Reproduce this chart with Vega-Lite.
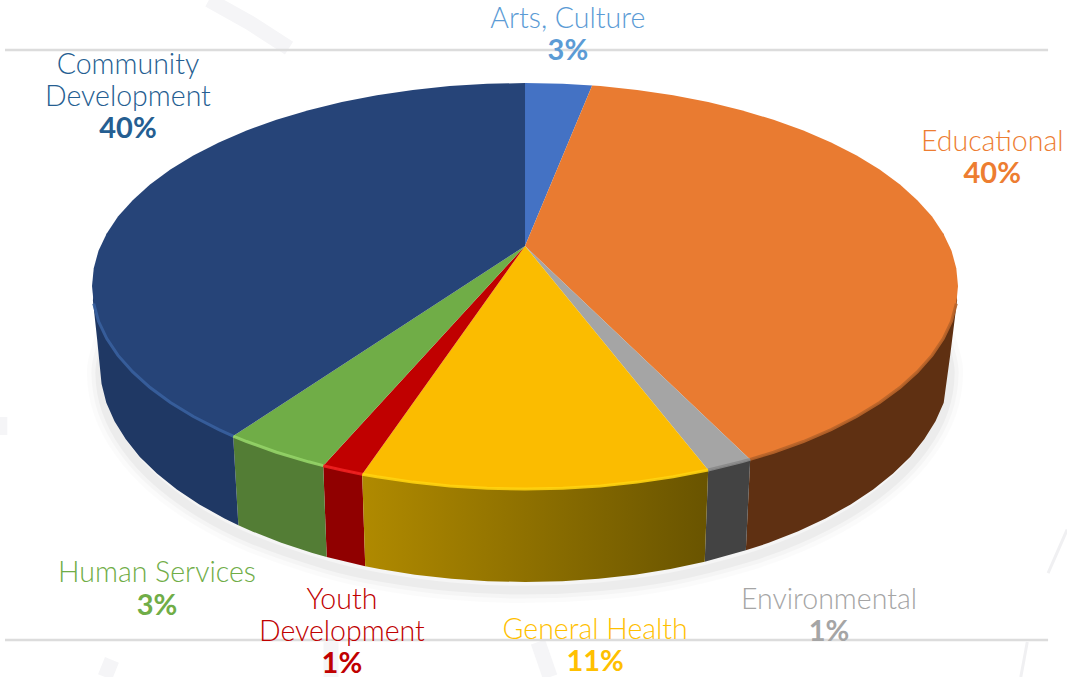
{"$schema":"https://vega.github.io/schema/vega-lite/v6.json","width":1067,"height":677,"autosize":"none","padding":0,"background":"white","config":{"view":{"stroke":null}},
"datasets":{
"captions":[{"name":"Arts, Culture","share":"3%"},{"name":"Educational","share":"40%"},{"name":"Environmental","share":"1%"},{"name":"General Health","share":"11%"},{"name":"Youth\nDevelopment","share":"1%"},{"name":"Human Services","share":"3%"},{"name":"Community\nDevelopment","share":"40%"}],
"backdrop":[{"g":"a","i":0,"x":-73,"y":140.9},{"g":"a","i":1,"x":-63.5,"y":129.6},{"g":"a","i":2,"x":-54.5,"y":117.2},{"g":"b","i":0,"x":-44.8,"y":-175.4},{"g":"b","i":1,"x":-44.8,"y":-192.6},{"g":"c","i":0,"x":-95.4,"y":-184.2},{"g":"c","i":1,"x":-97,"y":-192.6},{"g":"d","i":0,"x":3,"y":-175.4},{"g":"d","i":1,"x":5.8,"y":-192.6},{"g":"e","i":0,"x":-121.3,"y":-64.5},{"g":"e","i":1,"x":-121.3,"y":-73.4}],
"thin":[{"g":"f","i":0,"x":120.8,"y":-141.4},{"g":"f","i":1,"x":125.2,"y":-120},{"g":"h","i":0,"x":116,"y":-175.4},{"g":"h","i":1,"x":114.5,"y":-192.6}],
"rules":[{"g":"top","x":-120.1,"y":116.3},{"g":"top","x":120.8,"y":116.3},{"g":"bottom","x":-120.1,"y":-174.4},{"g":"bottom","x":120.8,"y":-174.4}],
"ground":[{"i":0,"x":94.8,"y":-15.2},{"i":1,"x":97,"y":-30},{"i":2,"x":98.2,"y":-42.9},{"i":3,"x":96.7,"y":-61.5},{"i":4,"x":92.2,"y":-79.5},{"i":5,"x":85,"y":-96.4},{"i":6,"x":75.2,"y":-111.6},{"i":7,"x":63.1,"y":-124.8},{"i":8,"x":51,"y":-134.2},{"i":9,"x":33.6,"y":-143.4},{"i":10,"x":17,"y":-148.2},{"i":11,"x":0,"y":-149.8},{"i":12,"x":-17,"y":-148.2},{"i":13,"x":-33.6,"y":-143.4},{"i":14,"x":-45.8,"y":-137.5},{"i":15,"x":-63.1,"y":-124.8},{"i":16,"x":-75.2,"y":-111.6},{"i":17,"x":-85,"y":-96.4},{"i":18,"x":-92.2,"y":-79.5},{"i":19,"x":-96.7,"y":-61.5},{"i":20,"x":-98.2,"y":-42.9},{"i":21,"x":-97,"y":-30},{"i":22,"x":-94.8,"y":-15.2}],
"outline":[
{"s":"Educational","f":"side","i":1,"x":99.8,"y":-6.9},{"s":"Educational","f":"side","i":2,"x":99.3,"y":-15.3},{"s":"Educational","f":"side","i":3,"x":98.2,"y":-34},{"s":"Educational","f":"side","i":4,"x":97,"y":-52.7},{"s":"Educational","f":"side","i":6,"x":96.7,"y":-57.5},{"s":"Educational","f":"side","i":7,"x":94.8,"y":-66.6},{"s":"Educational","f":"side","i":8,"x":92.2,"y":-75.5},{"s":"Educational","f":"side","i":9,"x":89,"y":-84.1},{"s":"Educational","f":"side","i":10,"x":85,"y":-92.4},{"s":"Educational","f":"side","i":11,"x":80.4,"y":-100.2},{"s":"Educational","f":"side","i":12,"x":75.2,"y":-107.6},{"s":"Educational","f":"side","i":13,"x":69.4,"y":-114.5},{"s":"Educational","f":"side","i":14,"x":63.1,"y":-120.8},{"s":"Educational","f":"side","i":15,"x":56.3,"y":-126.5},{"s":"Educational","f":"side","i":16,"x":51,"y":-130.2},{"s":"Educational","f":"side","i":17,"x":52,"y":-85.4},{"s":"Educational","f":"side","i":18,"x":96.6,"y":25.9},
{"s":"Environmental","f":"side","i":1,"x":51,"y":-130.2},{"s":"Environmental","f":"side","i":2,"x":41.5,"y":-135.8},{"s":"Environmental","f":"side","i":3,"x":42.3,"y":-90.6},{"s":"Environmental","f":"side","i":4,"x":52,"y":-85.4},
{"s":"General Health","f":"side","i":1,"x":41.5,"y":-135.8},{"s":"General Health","f":"side","i":2,"x":33.6,"y":-139.4},{"s":"General Health","f":"side","i":3,"x":25.4,"y":-142.2},{"s":"General Health","f":"side","i":4,"x":17,"y":-144.2},{"s":"General Health","f":"side","i":5,"x":8.6,"y":-145.4},{"s":"General Health","f":"side","i":6,"x":0,"y":-145.8},{"s":"General Health","f":"side","i":7,"x":-8.6,"y":-145.4},{"s":"General Health","f":"side","i":8,"x":-17,"y":-144.2},{"s":"General Health","f":"side","i":9,"x":-25.4,"y":-142.2},{"s":"General Health","f":"side","i":10,"x":-33.6,"y":-139.4},{"s":"General Health","f":"side","i":11,"x":-36.9,"y":-138},{"s":"General Health","f":"side","i":12,"x":-37.6,"y":-92.7},{"s":"General Health","f":"side","i":13,"x":42.3,"y":-90.6},
{"s":"Youth Development","f":"side","i":1,"x":-36.9,"y":-138},{"s":"Youth Development","f":"side","i":2,"x":-45.8,"y":-133.5},{"s":"Youth Development","f":"side","i":3,"x":-46.6,"y":-88.5},{"s":"Youth Development","f":"side","i":4,"x":-37.6,"y":-92.7},
{"s":"Human Services","f":"side","i":1,"x":-45.8,"y":-133.5},{"s":"Human Services","f":"side","i":2,"x":-49.1,"y":-131.5},{"s":"Human Services","f":"side","i":3,"x":-56.3,"y":-126.5},{"s":"Human Services","f":"side","i":4,"x":-63.1,"y":-120.8},{"s":"Human Services","f":"side","i":5,"x":-66.2,"y":-117.9},{"s":"Human Services","f":"side","i":6,"x":-67.4,"y":-73.9},{"s":"Human Services","f":"side","i":7,"x":-46.6,"y":-88.5},
{"s":"Community Development","f":"side","i":1,"x":-66.2,"y":-117.9},{"s":"Community Development","f":"side","i":2,"x":-69.4,"y":-114.5},{"s":"Community Development","f":"side","i":3,"x":-75.2,"y":-107.6},{"s":"Community Development","f":"side","i":4,"x":-80.4,"y":-100.2},{"s":"Community Development","f":"side","i":5,"x":-85,"y":-92.4},{"s":"Community Development","f":"side","i":6,"x":-89,"y":-84.1},{"s":"Community Development","f":"side","i":7,"x":-92.2,"y":-75.5},{"s":"Community Development","f":"side","i":8,"x":-94.8,"y":-66.6},{"s":"Community Development","f":"side","i":9,"x":-96.7,"y":-57.5},{"s":"Community Development","f":"side","i":10,"x":-97.8,"y":-48.2},{"s":"Community Development","f":"side","i":11,"x":-98.8,"y":-26.6},{"s":"Community Development","f":"side","i":12,"x":-99.8,"y":-6.9},{"s":"Community Development","f":"side","i":15,"x":-96.6,"y":25.9},{"s":"Community Development","f":"side","i":16,"x":-67.4,"y":-73.9},
{"s":"Arts, Culture","f":"top","i":0,"x":0,"y":19.7},{"s":"Arts, Culture","f":"top","i":1,"x":0,"y":100},{"s":"Arts, Culture","f":"top","i":2,"x":8.7,"y":99.6},{"s":"Arts, Culture","f":"top","i":3,"x":15.5,"y":98.8},
{"s":"Educational","f":"top","i":0,"x":0,"y":19.7},{"s":"Educational","f":"top","i":1,"x":15.5,"y":98.8},{"s":"Educational","f":"top","i":2,"x":17.4,"y":98.5},{"s":"Educational","f":"top","i":3,"x":25.9,"y":96.6},{"s":"Educational","f":"top","i":4,"x":34.2,"y":94},{"s":"Educational","f":"top","i":5,"x":42.3,"y":90.6},{"s":"Educational","f":"top","i":6,"x":50,"y":86.6},{"s":"Educational","f":"top","i":7,"x":57.4,"y":81.9},{"s":"Educational","f":"top","i":8,"x":64.3,"y":76.6},{"s":"Educational","f":"top","i":9,"x":70.7,"y":70.7},{"s":"Educational","f":"top","i":10,"x":76.6,"y":64.3},{"s":"Educational","f":"top","i":11,"x":81.9,"y":57.4},{"s":"Educational","f":"top","i":12,"x":86.6,"y":50},{"s":"Educational","f":"top","i":13,"x":90.6,"y":42.3},{"s":"Educational","f":"top","i":14,"x":94,"y":34.2},{"s":"Educational","f":"top","i":15,"x":96.6,"y":25.9},{"s":"Educational","f":"top","i":16,"x":98.5,"y":17.4},{"s":"Educational","f":"top","i":17,"x":99.6,"y":8.7},{"s":"Educational","f":"top","i":18,"x":100,"y":0},{"s":"Educational","f":"top","i":19,"x":99.6,"y":-8.7},{"s":"Educational","f":"top","i":20,"x":98.5,"y":-17.4},{"s":"Educational","f":"top","i":21,"x":96.6,"y":-25.9},{"s":"Educational","f":"top","i":22,"x":94,"y":-34.2},{"s":"Educational","f":"top","i":23,"x":90.6,"y":-42.3},{"s":"Educational","f":"top","i":24,"x":86.6,"y":-50},{"s":"Educational","f":"top","i":25,"x":81.9,"y":-57.4},{"s":"Educational","f":"top","i":26,"x":76.6,"y":-64.3},{"s":"Educational","f":"top","i":27,"x":70.7,"y":-70.7},{"s":"Educational","f":"top","i":28,"x":64.3,"y":-76.6},{"s":"Educational","f":"top","i":29,"x":57.4,"y":-81.9},{"s":"Educational","f":"top","i":30,"x":52,"y":-85.4},
{"s":"Environmental","f":"top","i":0,"x":0,"y":19.7},{"s":"Environmental","f":"top","i":1,"x":52,"y":-85.4},{"s":"Environmental","f":"top","i":2,"x":50,"y":-86.6},{"s":"Environmental","f":"top","i":3,"x":42.3,"y":-90.6},
{"s":"General Health","f":"top","i":0,"x":0,"y":19.7},{"s":"General Health","f":"top","i":1,"x":42.3,"y":-90.6},{"s":"General Health","f":"top","i":2,"x":34.2,"y":-94},{"s":"General Health","f":"top","i":3,"x":25.9,"y":-96.6},{"s":"General Health","f":"top","i":4,"x":17.4,"y":-98.5},{"s":"General Health","f":"top","i":5,"x":8.7,"y":-99.6},{"s":"General Health","f":"top","i":6,"x":0,"y":-100},{"s":"General Health","f":"top","i":7,"x":-8.7,"y":-99.6},{"s":"General Health","f":"top","i":8,"x":-17.4,"y":-98.5},{"s":"General Health","f":"top","i":9,"x":-25.9,"y":-96.6},{"s":"General Health","f":"top","i":10,"x":-34.2,"y":-94},{"s":"General Health","f":"top","i":11,"x":-37.6,"y":-92.7},
{"s":"Youth Development","f":"top","i":0,"x":0,"y":19.7},{"s":"Youth Development","f":"top","i":1,"x":-37.6,"y":-92.7},{"s":"Youth Development","f":"top","i":2,"x":-42.3,"y":-90.6},{"s":"Youth Development","f":"top","i":3,"x":-46.6,"y":-88.5},
{"s":"Human Services","f":"top","i":0,"x":0,"y":19.7},{"s":"Human Services","f":"top","i":1,"x":-46.6,"y":-88.5},{"s":"Human Services","f":"top","i":2,"x":-50,"y":-86.6},{"s":"Human Services","f":"top","i":3,"x":-57.4,"y":-81.9},{"s":"Human Services","f":"top","i":4,"x":-64.3,"y":-76.6},{"s":"Human Services","f":"top","i":5,"x":-67.4,"y":-73.9},
{"s":"Community Development","f":"top","i":0,"x":0,"y":19.7},{"s":"Community Development","f":"top","i":1,"x":-67.4,"y":-73.9},{"s":"Community Development","f":"top","i":2,"x":-70.7,"y":-70.7},{"s":"Community Development","f":"top","i":3,"x":-76.6,"y":-64.3},{"s":"Community Development","f":"top","i":4,"x":-81.9,"y":-57.4},{"s":"Community Development","f":"top","i":5,"x":-86.6,"y":-50},{"s":"Community Development","f":"top","i":6,"x":-90.6,"y":-42.3},{"s":"Community Development","f":"top","i":7,"x":-94,"y":-34.2},{"s":"Community Development","f":"top","i":8,"x":-96.6,"y":-25.9},{"s":"Community Development","f":"top","i":9,"x":-98.5,"y":-17.4},{"s":"Community Development","f":"top","i":10,"x":-99.6,"y":-8.7},{"s":"Community Development","f":"top","i":11,"x":-100,"y":0},{"s":"Community Development","f":"top","i":12,"x":-99.6,"y":8.7},{"s":"Community Development","f":"top","i":13,"x":-98.5,"y":17.4},{"s":"Community Development","f":"top","i":14,"x":-96.6,"y":25.9},{"s":"Community Development","f":"top","i":15,"x":-94,"y":34.2},{"s":"Community Development","f":"top","i":16,"x":-90.6,"y":42.3},{"s":"Community Development","f":"top","i":17,"x":-86.6,"y":50},{"s":"Community Development","f":"top","i":18,"x":-81.9,"y":57.4},{"s":"Community Development","f":"top","i":19,"x":-76.6,"y":64.3},{"s":"Community Development","f":"top","i":20,"x":-70.7,"y":70.7},{"s":"Community Development","f":"top","i":21,"x":-64.3,"y":76.6},{"s":"Community Development","f":"top","i":22,"x":-57.4,"y":81.9},{"s":"Community Development","f":"top","i":23,"x":-50,"y":86.6},{"s":"Community Development","f":"top","i":24,"x":-42.3,"y":90.6},{"s":"Community Development","f":"top","i":25,"x":-34.2,"y":94},{"s":"Community Development","f":"top","i":26,"x":-25.9,"y":96.6},{"s":"Community Development","f":"top","i":27,"x":-17.4,"y":98.5},{"s":"Community Development","f":"top","i":28,"x":-8.7,"y":99.6},{"s":"Community Development","f":"top","i":29,"x":0,"y":100}
]},
"data":{"name":"outline"},
"encoding":{
"x":{"field":"x","type":"quantitative","axis":null,"scale":{"domain":[-121.25,125.17],"nice":false,"zero":false}},
"y":{"field":"y","type":"quantitative","axis":null,"scale":{"domain":[-192.6,140.89],"nice":false,"zero":false}}},
"layer":[
{"data":{"name":"backdrop"},"mark":{"type":"line","stroke":"#f5f5f7","strokeWidth":15,"clip":true},"encoding":{"detail":{"field":"g"},"order":{"field":"i"}}},
{"data":{"name":"thin"},"mark":{"type":"line","stroke":"#f0f0f2","strokeWidth":3,"clip":true},"encoding":{"detail":{"field":"g"},"order":{"field":"i"}}},
{"data":{"name":"rules"},"mark":{"type":"line","stroke":"#dcdcdc","strokeWidth":2.5},"encoding":{"detail":{"field":"g"}}},
{"data":{"name":"ground"},"mark":{"type":"line","stroke":"#000","strokeOpacity":0.015,"strokeWidth":26,"interpolate":"cardinal"},"encoding":{"order":{"field":"i"}}},
{"data":{"name":"ground"},"mark":{"type":"line","stroke":"#000","strokeOpacity":0.025,"strokeWidth":17,"interpolate":"cardinal"},"encoding":{"order":{"field":"i"}}},
{"data":{"name":"ground"},"mark":{"type":"line","stroke":"#000","strokeOpacity":0.035,"strokeWidth":9,"interpolate":"cardinal"},"encoding":{"order":{"field":"i"}}},
{"transform":[{"filter":"datum.f=='side' && datum.s!='General Health'"}],"mark":{"type":"line","filled":true,"strokeWidth":0},
"encoding":{"order":{"field":"i"},"color":{"field":"s","type":"nominal","legend":null,"scale":{"domain":["Educational","Environmental","Youth Development","Human Services","Community Development"],"range":["#5f3012","#434343","#900000","#537d35","#1f3864"]}}}},
{"transform":[{"filter":"datum.f=='side' && datum.s=='General Health'"}],"mark":{"type":"line","strokeWidth":0,"fill":{"gradient":"linear","x1":0,"y1":0,"x2":1,"y2":0,"stops":[{"offset":0,"color":"#b08a00"},{"offset":1,"color":"#695400"}]}},"encoding":{"order":{"field":"i"}}},
{"transform":[{"filter":"datum.f=='top'"}],"mark":{"type":"line","filled":true,"strokeWidth":0},
"encoding":{"order":{"field":"i"},"fill":{"field":"s","type":"nominal","legend":null,"scale":{"domain":["Arts, Culture","Educational","Environmental","General Health","Youth Development","Human Services","Community Development"],"range":["#4472c4","#e97b31","#a5a5a5","#fbbc00","#c00000","#70ad47","#264478"]}}}},
{"transform":[{"filter":"datum.f=='top' && datum.i>0 && datum.y<0"}],"mark":{"type":"line","strokeWidth":3,"strokeOpacity":0.9},
"encoding":{"order":{"field":"i"},"stroke":{"field":"s","type":"nominal","legend":null,"scale":{"domain":["Educational","Environmental","General Health","Youth Development","Human Services","Community Development"],"range":["#b8642a","#8a8a8a","#ffd310","#f02020","#95d468","#38609f"]}}}},
{"data":{"name":"captions"},"transform":[{"calculate":"{'Arts, Culture':9.9,'Educational':107.9,'Environmental':70.2,'General Health':16.2,'Youth\\nDevelopment':-42.3,'Human Services':-85,'Community\\nDevelopment':-91.7}[datum.name]","as":"cx"},{"calculate":"{'Arts, Culture':127.1,'Educational':66.5,'Environmental':-159.1,'General Health':-173.9,'Youth\\nDevelopment':-159.1,'Human Services':-145.8,'Community\\nDevelopment':104.4}[datum.name]","as":"cy"}],
"mark":{"type":"text","font":"Lato","fontWeight":300,"fontSize":28.5,"lineHeight":32,"lineBreak":"\n","baseline":"alphabetic","align":"center"},
"encoding":{"x":{"field":"cx","type":"quantitative"},"y":{"field":"cy","type":"quantitative"},"text":{"field":"name","type":"nominal"},"color":{"field":"name","type":"nominal","legend":null,"scale":{"domain":["Arts, Culture","Educational","Environmental","General Health","Youth\nDevelopment","Human Services","Community\nDevelopment"],"range":["#5b9bd5","#ed7d31","#a5a5a5","#ffc000","#c00000","#70ad47","#255e91"]}}}},
{"data":{"name":"captions"},"transform":[{"calculate":"{'Arts, Culture':9.9,'Educational':107.9,'Environmental':70.2,'General Health':16.2,'Youth\\nDevelopment':-42.3,'Human Services':-85,'Community\\nDevelopment':-91.7}[datum.name]","as":"cx"},{"calculate":"{'Arts, Culture':111.3,'Educational':50.7,'Environmental':-174.9,'General Health':-189.7,'Youth\\nDevelopment':-190.6,'Human Services':-162.1,'Community\\nDevelopment':72.9}[datum.name]","as":"cy"}],
"mark":{"type":"text","font":"Lato","fontWeight":700,"fontSize":29,"baseline":"alphabetic","align":"center"},
"encoding":{"x":{"field":"cx","type":"quantitative"},"y":{"field":"cy","type":"quantitative"},"text":{"field":"share","type":"nominal"},"color":{"field":"name","type":"nominal","legend":null,"scale":{"domain":["Arts, Culture","Educational","Environmental","General Health","Youth\nDevelopment","Human Services","Community\nDevelopment"],"range":["#5b9bd5","#ed7d31","#a5a5a5","#ffc000","#c00000","#70ad47","#255e91"]}}}}
],"resolve":{"scale":{"color":"independent","fill":"independent","stroke":"independent"}}}
